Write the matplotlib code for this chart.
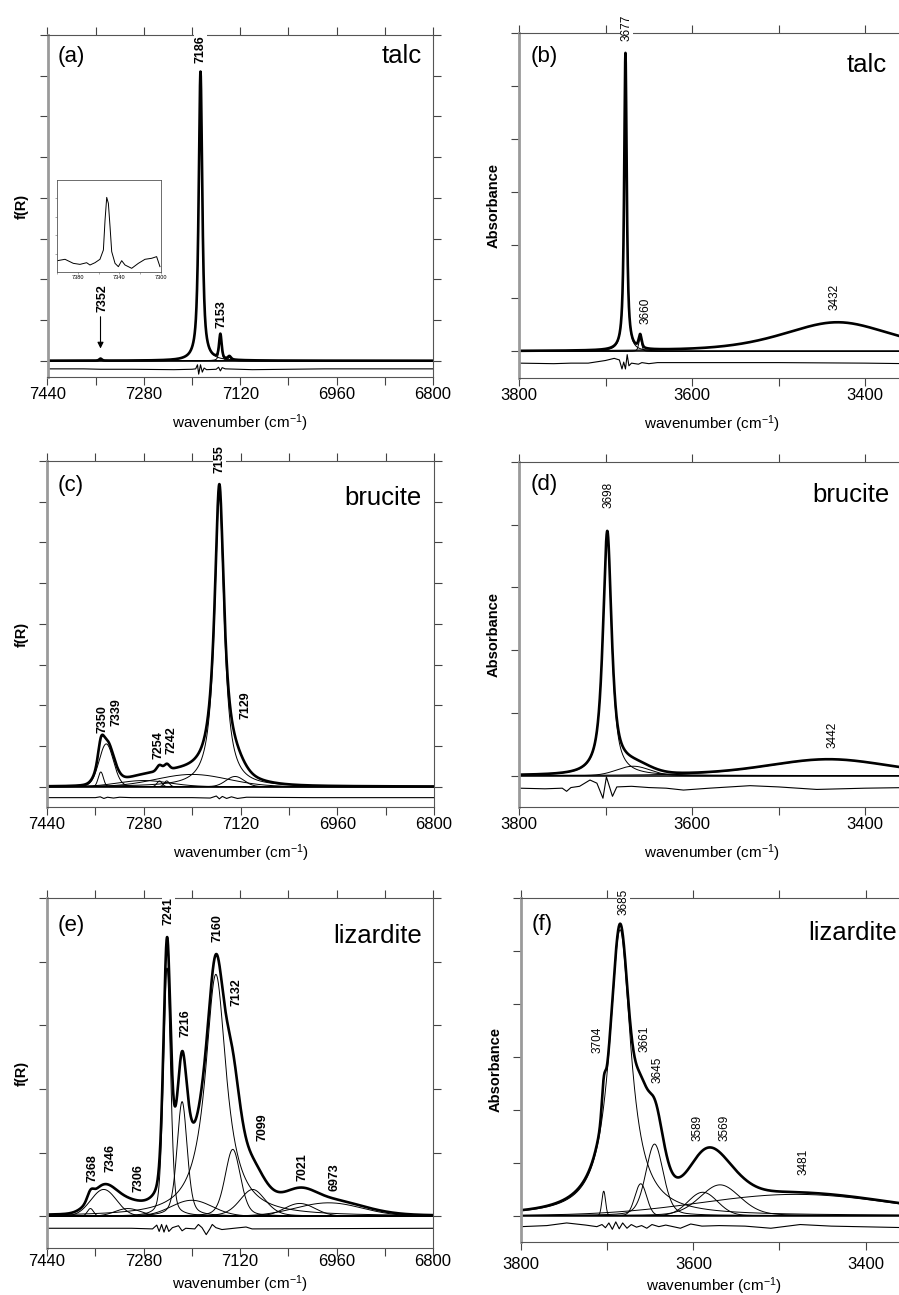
import numpy as np
import matplotlib
matplotlib.use("Agg")
import matplotlib.pyplot as plt
from matplotlib.ticker import MultipleLocator, FuncFormatter

plt.rcParams["font.family"] = ["Liberation Sans", "DejaVu Sans"]
plt.rcParams["mathtext.default"] = "regular"

W, H = 899, 1295

# ---------------- fitted bands ----------------
# each band: position (cm-1), height (tick units), FWHM (cm-1), Lorentz fraction

# (a) talc NIR
a_pos = [7352, 7186, 7153, 7138]
a_hgt = [0.05, 7.1, 0.6, 0.08]
a_fwhm = [5, 7, 5, 6]
a_eta = [0.5, 0.8, 0.5, 0.5]
a_res_x = [7440, 7380, 7352, 7300, 7230, 7200, 7194, 7191, 7189, 7186, 7183, 7180,
           7176, 7160, 7156, 7153, 7150, 7145, 7100, 7040, 6980, 6800]
a_res_y = [-0.2, -0.2, -0.21, -0.21, -0.22, -0.21, -0.2, -0.1, -0.33, -0.1, -0.28, -0.18,
           -0.22, -0.21, -0.16, -0.25, -0.17, -0.2, -0.22, -0.21, -0.2, -0.2]
a_lab = ["7186", "7153"]
a_lab_x = [7186, 7151]
a_lab_y = [7.32, 0.81]

# inset of (a): weak 7352 band
ins_x = [7399.7, 7392.3, 7384.3, 7377.9, 7371.5, 7368.3, 7363.5, 7358.7, 7355.4, 7353.8,
         7352.2, 7350.6, 7349.0, 7347.4, 7344.2, 7341.0, 7337.8, 7334.6, 7328.2, 7321.8,
         7315.4, 7309.0, 7304.2, 7301.0]
ins_y = [0.123, 0.138, 0.094, 0.083, 0.101, 0.076, 0.101, 0.138, 0.239, 0.565,
         0.811, 0.746, 0.493, 0.221, 0.094, 0.058, 0.123, 0.076, 0.040, 0.094,
         0.138, 0.149, 0.167, 0.058]

# (b) talc MIR
b_pos = [3677, 3660, 3432]
b_hgt = [5.6, 0.25, 0.55]
b_fwhm = [3.5, 4, 150]
b_eta = [0.9, 0.5, 0.5]
b_res_x = [3800, 3760, 3740, 3720, 3700, 3690, 3684, 3681, 3679, 3677, 3675, 3673,
           3670, 3662, 3658, 3650, 3640, 3600, 3500, 3400, 3350]
b_res_y = [-0.22, -0.23, -0.22, -0.22, -0.17, -0.13, -0.16, -0.33, -0.2, -0.33, -0.06, -0.27,
           -0.22, -0.24, -0.21, -0.23, -0.21, -0.21, -0.21, -0.22, -0.23]
b_lab = ["3677", "3660", "3432"]
b_lab_x = [3676, 3654, 3435]
b_lab_y = [5.85, 0.51, 0.79]

# (c) brucite NIR
c_pos = [7351, 7342, 7280, 7254, 7242, 7200, 7155, 7129]
c_hgt = [0.36, 1.05, 0.15, 0.14, 0.14, 0.3, 7.15, 0.25]
c_fwhm = [10, 28, 100, 10, 10, 140, 19, 35]
c_eta = [0, 0.1, 0, 0, 0, 0, 1.0, 0]
c_res_x = [7440, 7360, 7352, 7346, 7340, 7330, 7320, 7300, 7200, 7170, 7160, 7155,
           7150, 7143, 7135, 7125, 7110, 7000, 6800]
c_res_y = [-0.27, -0.27, -0.25, -0.29, -0.26, -0.28, -0.26, -0.27, -0.27, -0.28, -0.23, -0.3,
           -0.24, -0.29, -0.25, -0.29, -0.26, -0.27, -0.27]
c_lab = ["7155", "7350", "7339", "7254", "7242", "7129"]
c_lab_x = [7155, 7348, 7325, 7255, 7234, 7112]
c_lab_y = [7.71, 1.33, 1.5, 0.69, 0.81, 1.67]

# (d) brucite MIR
d_pos = [3698, 3668, 3442]
d_hgt = [3.85, 0.15, 0.26]
d_fwhm = [12, 45, 170]
d_eta = [0.85, 0, 0.3]
d_res_x = [3800, 3770, 3750, 3745, 3740, 3730, 3718, 3710, 3703, 3699, 3692, 3687,
           3670, 3650, 3630, 3610, 3580, 3533, 3500, 3456, 3400, 3350]
d_res_y = [-0.2, -0.21, -0.2, -0.25, -0.19, -0.17, -0.07, -0.12, -0.36, -0.02, -0.33, -0.18,
           -0.17, -0.19, -0.2, -0.23, -0.2, -0.16, -0.18, -0.22, -0.2, -0.19]
d_lab = ["3698", "3442"]
d_lab_x = [3696, 3438]
d_lab_y = [4.27, 0.44]

# (e) lizardite NIR
e_pos = [7368, 7346, 7306, 7241, 7216, 7200, 7160, 7132, 7099, 7021, 6973]
e_hgt = [0.12, 0.42, 0.12, 3.9, 1.8, 0.25, 3.8, 1.05, 0.42, 0.2, 0.21]
e_fwhm = [12, 50, 50, 14, 20, 80, 42, 30, 50, 60, 130]
e_eta = [0, 0, 0, 0.3, 0.4, 0, 1.0, 0.3, 0.3, 0, 0]
e_res_x = [7440, 7300, 7265, 7258, 7254, 7250, 7246, 7242, 7238, 7232, 7222, 7216, 7210,
           7195, 7189, 7183, 7176, 7170, 7166, 7160, 7150, 7130, 7110, 7100, 6800]
e_res_y = [-0.19, -0.19, -0.2, -0.14, -0.24, -0.13, -0.25, -0.14, -0.24, -0.18, -0.15, -0.23, -0.19,
           -0.2, -0.13, -0.18, -0.29, -0.2, -0.13, -0.18, -0.21, -0.19, -0.17, -0.2, -0.19]
e_lab = ["7241", "7160", "7216", "7132", "7099", "7021", "6973", "7368", "7346", "7306"]
e_lab_x = [7239, 7158, 7211, 7125, 7082, 7017, 6963, 7365, 7334, 7289]
e_lab_y = [4.57, 4.31, 2.82, 3.31, 1.18, 0.55, 0.39, 0.54, 0.69, 0.38]

# (f) lizardite MIR
f_pos = [3704, 3685, 3661, 3645, 3589, 3569, 3481]
f_hgt = [0.46, 5.4, 0.6, 1.35, 0.44, 0.58, 0.4]
f_fwhm = [5, 30, 16, 24, 40, 55, 260]
f_eta = [0, 1.0, 0, 0.3, 0, 0.2, 0]
f_res_x = [3800, 3770, 3747, 3725, 3712, 3706, 3702, 3698, 3694, 3690, 3686, 3682, 3677,
           3672, 3666, 3660, 3654, 3648, 3640, 3632, 3615, 3603, 3590, 3570, 3540, 3510,
           3476, 3440, 3350]
f_res_y = [-0.21, -0.19, -0.14, -0.18, -0.21, -0.17, -0.23, -0.14, -0.26, -0.12, -0.25, -0.14, -0.24,
           -0.17, -0.22, -0.19, -0.24, -0.17, -0.21, -0.18, -0.24, -0.16, -0.2, -0.19, -0.2, -0.24,
           -0.17, -0.2, -0.23]
f_lab = ["3685", "3704", "3661", "3645", "3589", "3569", "3481"]
f_lab_x = [3681, 3711, 3657, 3642, 3595, 3564, 3472]
f_lab_y = [5.68, 3.08, 3.09, 2.51, 1.4, 1.4, 0.77]

# ---------------- layout (figure pixels: left, top, right, bottom) ----------------
panels = [
    dict(rect=(47.5, 35, 433, 377), xlim=(7440, 6800), ylim=(-0.4, 8), nir=True,
         bands=(a_pos, a_hgt, a_fwhm, a_eta), res=(a_res_x, a_res_y),
         labels=(a_lab, a_lab_x, a_lab_y), ylabel="f(R)", ylab_px=29, pad=1.5, xlab_off=35,
         letter="(a)", letter_px=(58, 62), name="talc", name_px=(422, 63)),
    dict(rect=(519, 33, 905, 378), xlim=(3800, 3354), ylim=(-0.5, 6), nir=False,
         bands=(b_pos, b_hgt, b_fwhm, b_eta), res=(b_res_x, b_res_y),
         labels=(b_lab, b_lab_x, b_lab_y), ylabel="Absorbance", ylab_px=501, pad=1.5, xlab_off=35,
         letter="(b)", letter_px=(531, 62), name="talc", name_px=(887, 72)),
    dict(rect=(47, 461, 434, 807), xlim=(7440, 6800), ylim=(-0.5, 8), nir=True,
         bands=(c_pos, c_hgt, c_fwhm, c_eta), res=(c_res_x, c_res_y),
         labels=(c_lab, c_lab_x, c_lab_y), ylabel="f(R)", ylab_px=29, pad=1.5, xlab_off=35,
         letter="(c)", letter_px=(58, 491), name="brucite", name_px=(422, 505)),
    dict(rect=(519, 462, 905, 807), xlim=(3800, 3354), ylim=(-0.5, 5), nir=False,
         bands=(d_pos, d_hgt, d_fwhm, d_eta), res=(d_res_x, d_res_y),
         labels=(d_lab, d_lab_x, d_lab_y), ylabel="Absorbance", ylab_px=501, pad=1.5, xlab_off=35,
         letter="(d)", letter_px=(531, 490), name="brucite", name_px=(890, 502)),
    dict(rect=(47, 898, 433, 1248), xlim=(7440, 6800), ylim=(-0.5, 5), nir=True,
         bands=(e_pos, e_hgt, e_fwhm, e_eta), res=(e_res_x, e_res_y),
         labels=(e_lab, e_lab_x, e_lab_y), ylabel="f(R)", ylab_px=29, pad=-1.5, xlab_off=25,
         letter="(e)", letter_px=(58, 931), name="lizardite", name_px=(422, 943)),
    dict(rect=(521, 898, 907, 1242), xlim=(3800, 3352), ylim=(-0.5, 6), nir=False,
         bands=(f_pos, f_hgt, f_fwhm, f_eta), res=(f_res_x, f_res_y),
         labels=(f_lab, f_lab_x, f_lab_y), ylabel="Absorbance", ylab_px=503, pad=4.5, xlab_off=33,
         letter="(f)", letter_px=(532, 930), name="lizardite", name_px=(897, 940)),
]


def band(x, c, h, w, eta):
    g = np.exp(-4 * np.log(2) * (x - c) ** 2 / w ** 2)
    l = 1 / (1 + 4 * (x - c) ** 2 / w ** 2)
    return h * (eta * l + (1 - eta) * g)


def nir_fmt(v, p):
    return f"{v:.0f}" if round(7440 - v) % 160 == 0 else ""


def mir_fmt(v, p):
    return f"{v:.0f}" if round(v) % 200 == 0 else ""


fig = plt.figure(figsize=(W / 100, H / 100), dpi=100)

for P in panels:
    l, t, r, b = P["rect"]
    ax = fig.add_axes([l / W, 1 - b / H, (r - l) / W, (b - t) / H])
    x = np.linspace(P["xlim"][0], P["xlim"][1], 4000)
    total = np.zeros_like(x)
    for c, h, w, eta in zip(*P["bands"]):
        comp = band(x, c, h, w, eta)
        total += comp
        ax.plot(x, comp, color="k", lw=0.7)
    ax.axhline(0, color="k", lw=1.1)
    ax.plot(x, total, color="k", lw=1.9)
    ax.plot(P["res"][0], P["res"][1], color="k", lw=0.8)

    for txt, lx, ly in zip(*P["labels"]):
        ax.text(lx, ly, txt, rotation=90, ha="center", va="bottom",
                fontsize=9 if P["nir"] else 8.5,
                fontweight="bold" if P["nir"] else "normal",
                bbox=dict(facecolor="white", edgecolor="none", pad=0.4), zorder=4)

    ax.set_xlim(*P["xlim"])
    ax.set_ylim(*P["ylim"])
    ax.xaxis.set_major_locator(MultipleLocator(80 if P["nir"] else 100))
    ax.xaxis.set_major_formatter(FuncFormatter(nir_fmt if P["nir"] else mir_fmt))
    ax.yaxis.set_major_locator(MultipleLocator(1))
    ax.yaxis.set_major_formatter(FuncFormatter(lambda v, p: ""))
    ax.tick_params(direction="out", length=6, width=0.8, color="#444444",
                   top=True, right=True, labelsize=12)
    ax.tick_params(axis="x", pad=P["pad"])
    for s in ["top", "right", "bottom"]:
        ax.spines[s].set_color("#555555")
        ax.spines[s].set_linewidth(0.8)
    ax.spines["left"].set_color("#9a9a9a")
    ax.spines["left"].set_linewidth(2)

    ax.set_xlabel("wavenumber (cm$^{-1}$)", fontsize=11)
    ax.xaxis.set_label_coords(0.5, -P["xlab_off"] / (b - t))
    ax.set_ylabel(P["ylabel"], fontsize=10.5, fontweight="bold")
    ax.yaxis.set_label_coords((P["ylab_px"] - l) / (r - l), 0.5)

    fx, fy = P["letter_px"]
    fig.text(fx / W, 1 - fy / H, P["letter"], fontsize=16, ha="left", va="baseline")
    nx, ny = P["name_px"]
    fig.text(nx / W, 1 - ny / H, P["name"], fontsize=18.5, ha="right", va="baseline")

    if P["letter"] == "(a)":
        ax.annotate("", xy=(7352, 0.3), xytext=(7352, 1.08),
                    arrowprops=dict(arrowstyle="-|>", color="k", lw=0.8,
                                    mutation_scale=9, shrinkA=0, shrinkB=0))
        ax.text(7348, 1.2, "7352", rotation=90, ha="center", va="bottom",
                fontsize=9, fontweight="bold")

# inset in (a)
ax_in = fig.add_axes([57 / W, 1 - 272 / H, 104 / W, 92 / H])
ax_in.plot(ins_x, ins_y, color="k", lw=0.7)
ax_in.set_xlim(7400, 7300)
ax_in.set_ylim(0, 1)
ax_in.set_xticks([7380, 7340, 7300])
ax_in.set_xticks([7400, 7360, 7320], minor=True)
ax_in.set_yticks([0.2, 0.4, 0.6, 0.8])
ax_in.set_yticklabels([])
ax_in.tick_params(which="both", direction="out", length=1.5, width=0.4,
                  labelsize=4, pad=1, color="#666666")
for s in ax_in.spines.values():
    s.set_linewidth(0.6)
    s.set_color("#555555")

fig.savefig("out.png", dpi=100)
